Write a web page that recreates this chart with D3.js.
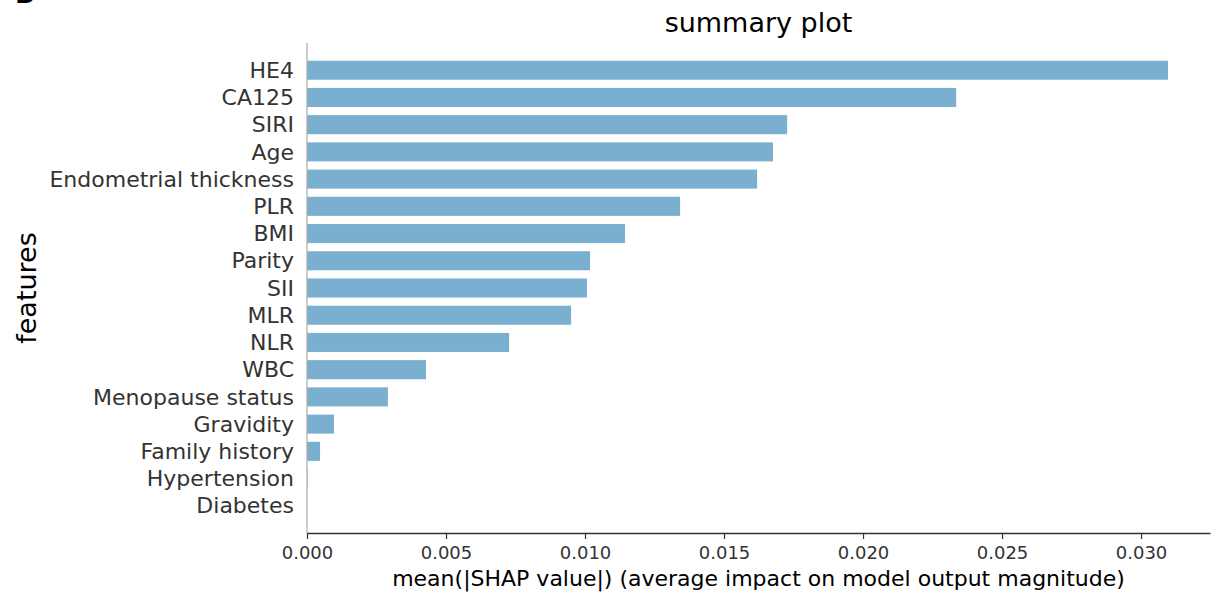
<!DOCTYPE html>
<html>
<head>
<meta charset="utf-8">
<script src="https://cdn.jsdelivr.net/npm/d3@7"></script>
<style>
  body { margin: 0; background: #fff; }
  text { font-family: "DejaVu Sans", sans-serif; }
</style>
</head>
<body>
<div id="chart"></div>
<script>
// features from top to bottom
const features = ["HE4", "CA125", "SIRI", "Age", "Endometrial thickness", "PLR", "BMI",
  "Parity", "SII", "MLR", "NLR", "WBC", "Menopause status", "Gravidity",
  "Family history", "Hypertension", "Diabetes"];
const values = [0.03097, 0.02335, 0.01727, 0.01676, 0.01619, 0.01342, 0.01144,
  0.01018, 0.01007, 0.0095, 0.00727, 0.00428, 0.00291, 0.00097,
  0.00047, 0.00002, 0];
const xTicks = [0, 0.005, 0.010, 0.015, 0.020, 0.025, 0.030];

const width = 1211;
const height = 593;
const margin = {left: 307, right: 1, top: 43, bottom: 60};
const axisColor = "#333333";

const svg = d3.select("#chart")
  .append("svg")
  .attr("width", width)
  .attr("height", height);

const x = d3.scaleLinear()
  .domain([0, 0.03248])
  .range([margin.left, width - margin.right]);

// position 0 is the bottom row, like matplotlib barh
const n = features.length;
const y = d3.scaleLinear()
  .domain([-1, n])
  .range([height - margin.bottom, margin.top]);
const rowH = y(0) - y(1);
const pos = i => n - 1 - i;

// panel letter, cut by the top edge in the original figure
svg.append("text")
  .attr("x", 15)
  .attr("y", 3)
  .attr("font-size", 26)
  .attr("font-weight", "bold")
  .attr("fill", "#000")
  .text("B");

svg.append("g")
  .selectAll("rect")
  .data(values)
  .join("rect")
  .attr("x", x(0))
  .attr("y", (d, i) => y(pos(i)) - rowH * 0.35)
  .attr("width", d => x(d) - x(0))
  .attr("height", rowH * 0.7)
  .attr("fill", "#7aafcf");

// y tick labels
svg.append("g")
  .selectAll("text")
  .data(features)
  .join("text")
  .attr("x", x(0) - 13)
  .attr("y", (d, i) => y(pos(i)))
  .attr("dy", "0.35em")
  .attr("text-anchor", "end")
  .attr("font-size", 22)
  .attr("fill", axisColor)
  .text(d => d);

// left spine
svg.append("line")
  .attr("x1", x(0)).attr("x2", x(0))
  .attr("y1", y(n)).attr("y2", y(-1))
  .attr("stroke", "#aaaaaa")
  .attr("stroke-width", 1.2);

// x axis
const xAxis = svg.append("g")
  .attr("transform", `translate(0,${y(-1)})`)
  .call(d3.axisBottom(x).tickValues(xTicks).tickFormat(d3.format(".3f")).tickSize(6).tickSizeOuter(0));
xAxis.select(".domain").attr("stroke", axisColor).attr("stroke-width", 1.4);
xAxis.selectAll(".tick line").attr("stroke", axisColor).attr("stroke-width", 1.2);
xAxis.selectAll(".tick text")
  .attr("font-family", "DejaVu Sans")
  .attr("font-size", 18)
  .attr("fill", axisColor)
  .attr("dy", "0.95em");

svg.append("text")
  .attr("x", (x(0) + x(0.03248)) / 2)
  .attr("y", 586)
  .attr("text-anchor", "middle")
  .attr("font-size", 22)
  .attr("fill", "#000")
  .text("mean(|SHAP value|) (average impact on model output magnitude)");

svg.append("text")
  .attr("transform", `translate(36,${(y(n) + y(-1)) / 2}) rotate(-90)`)
  .attr("text-anchor", "middle")
  .attr("font-size", 27)
  .attr("fill", "#000")
  .text("features");

svg.append("text")
  .attr("x", (x(0) + x(0.03248)) / 2)
  .attr("y", 32)
  .attr("text-anchor", "middle")
  .attr("font-size", 27)
  .attr("fill", "#000")
  .text("summary plot");
</script>
</body>
</html>
